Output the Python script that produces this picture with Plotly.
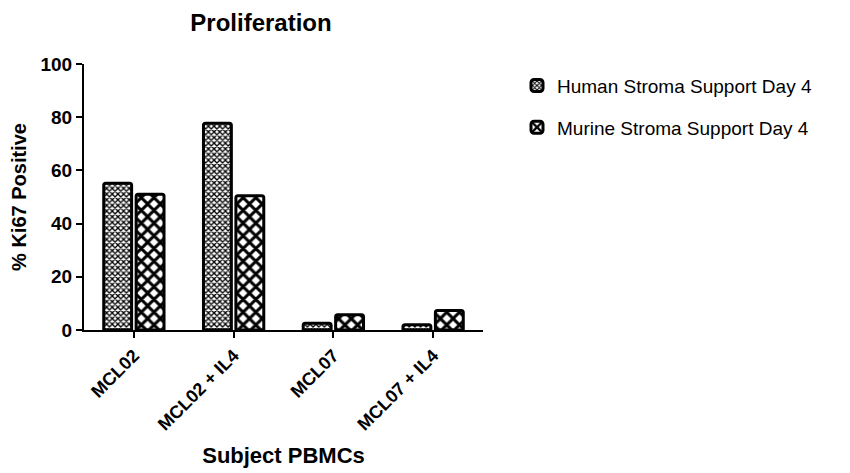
import plotly.graph_objects as go

categories = ["MCL02", "MCL02 + IL4", "MCL07", "MCL07 + IL4"]
human = [55.2, 77.7, 2.5, 2.0]
murine = [51.0, 50.5, 5.7, 7.3]
yticks = [0, 20, 40, 60, 80, 100]

fnt = "Liberation Sans, Arial, sans-serif"

# page body has an 8px margin, so everything is shifted up/left by 8
L, T, PW, PH = 76, 56, 399, 266

fig = go.Figure()
fig.add_trace(go.Bar(x=categories, y=human,
                     name="Human Stroma Support Day 4",
                     legendgroup="h",
                     marker=dict(color="white",
                                 line=dict(color="black", width=3),
                                 cornerradius=2,
                                 pattern=dict(shape="x", size=4, solidity=0.55,
                                              fgcolor="black", bgcolor="white",
                                              fillmode="replace"))))
fig.add_trace(go.Bar(x=categories, y=murine,
                     name="Murine Stroma Support Day 4",
                     legendgroup="m",
                     marker=dict(color="white",
                                 line=dict(color="black", width=3),
                                 cornerradius=2,
                                 pattern=dict(shape="x", size=9, solidity=0.55,
                                              fgcolor="black", bgcolor="white",
                                              fillmode="replace"))))

fig.update_layout(
    width=850, height=473,
    margin=dict(l=L, r=850 - L - PW, t=T, b=473 - T - PH, autoexpand=False),
    plot_bgcolor="white", paper_bgcolor="white",
    barmode="group", bargap=0.35, bargroupgap=0.14,
    font=dict(family=fnt, color="black"),
    title=dict(text="<b>Proliferation</b>", x=(253 - L) / PW, xref="paper",
               y=1 - 15 / 473, yanchor="middle", xanchor="center",
               font=dict(size=24)),
    legend=dict(x=(557 - 48 - L) / PW, y=0.99, xanchor="left", yanchor="top",
                font=dict(size=19), tracegroupgap=14),
    showlegend=True,
)

fig.update_xaxes(range=[-0.5, 3.5], showline=True, linecolor="black", linewidth=2,
                 ticks="outside", ticklen=6, tickwidth=2, tickcolor="black",
                 tickangle=-45, tickfont=dict(size=18, family=fnt),
                 showgrid=False, automargin=False,
                 tickvals=categories, ticktext=["<b>%s</b>" % c for c in categories],
                 title=dict(text="<b>Subject PBMCs</b>", font=dict(size=22), standoff=14))

fig.update_yaxes(range=[0, 100], showline=True, linecolor="black", linewidth=2,
                 ticks="outside", ticklen=6, tickwidth=2, tickcolor="black",
                 tickvals=yticks, ticktext=["<b>%d</b>" % v for v in yticks],
                 tickfont=dict(size=19, family=fnt), showgrid=False, zeroline=False,
                 automargin=False,
                 title=dict(text="<b>% Ki67 Positive</b>", font=dict(size=20), standoff=10))

fig.write_html("out.html")
